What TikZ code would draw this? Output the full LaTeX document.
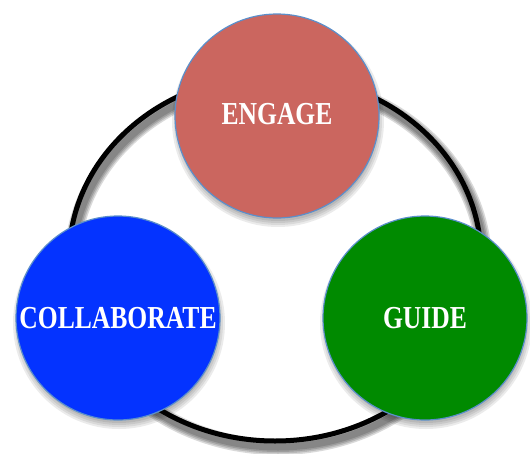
\documentclass[tikz,border=0pt]{standalone}
\usepackage{fontspec}
\newfontfamily\labfont[FakeStretch=0.8]{Liberation Serif}
\definecolor{engagecol}{HTML}{CB665F}
\definecolor{collabcol}{HTML}{0433FF}
\definecolor{guidecol}{HTML}{008A00}
\definecolor{rimcol}{HTML}{5B8FCB}
\tikzset{
  bubble/.style={circle, minimum size=204pt, inner sep=0pt, draw=rimcol, line width=1.2pt,
    text=white, font=\labfont\bfseries\fontsize{32}{32}\selectfont},
  shadowlayer/.style={fill=black, fill opacity=0.08, draw=none}
}
\begin{document}
\begin{tikzpicture}[x=1pt,y=-1pt]
\useasboundingbox (0,0) rectangle (530,453);
% ring shadow
\foreach \w in {16,13,10,7}{
  \draw[black, opacity=0.15, line width=\w pt] (278,264) ellipse [x radius=206pt, y radius=183pt];
}
% ring
\coordinate (ringc) at (275,258);
\draw[black, line width=5pt] (ringc) ellipse [x radius=206pt, y radius=183pt];
% circle shadows
\foreach \cx/\cy in {277/116, 118/318, 425/318}{
  \foreach \r in {106,104,102,100}{
    \fill[shadowlayer] (\cx+1,\cy+5) circle [radius=\r pt];
  }
}
% circles
\node[bubble, fill=engagecol] (engage) at (277,116) {\raisebox{5pt}{ENGAGE}};
\node[bubble, fill=collabcol] (collab) at (118,318) {COLLABORATE};
\node[bubble, fill=guidecol] (guide) at (425,318) {GUIDE};
\end{tikzpicture}
\end{document}
